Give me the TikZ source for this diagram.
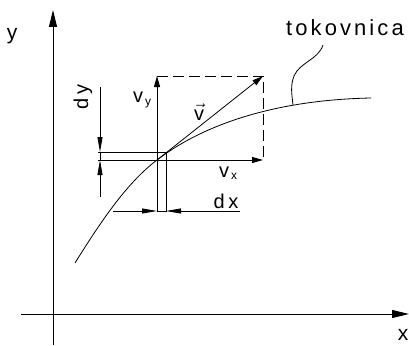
\documentclass[tikz,border=0pt]{standalone}
\usepackage{fontspec}
\setmainfont{Liberation Sans}
\newfontfamily\spaced[LetterSpace=18]{Liberation Sans}
\newfontfamily\wide[LetterSpace=14]{Liberation Sans}
\usetikzlibrary{arrows.meta,calc}
\begin{document}
\begin{tikzpicture}[x=1pt,y=-1pt,line width=0.8pt,
  lbl/.style={inner sep=0pt,font=\fontsize{20}{21}\selectfont},
  axisarrow/.style={-{Triangle[length=17pt,width=8pt]}},
  vecarrow/.style={-{Triangle[length=11pt,width=6pt]}},
  dimarrow/.style={-{Triangle[length=15pt,width=5pt]}},
  dsh/.style={dash pattern=on 11pt off 5pt}]
\useasboundingbox (0,0) rectangle (409,345);
% axes
\coordinate (yb) at (53,345); \coordinate (yt) at (53,10);
\coordinate (xl) at (21,314); \coordinate (xr) at (409,314);
\draw[axisarrow,line width=1pt] (yb) -- (yt);
\draw[axisarrow,line width=1pt] (xl) -- (xr);
\node[lbl,font=\fontsize{21}{22}\selectfont] (ylab) at (12,36) {y};
\node[lbl,font=\fontsize{21}{22}\selectfont] (xlab) at (403,335) {x};
% points
\coordinate (P) at (157,160);
\coordinate (Q) at (166,152);
\coordinate (Vy) at (157,76);
\coordinate (Vx) at (263,160);
\coordinate (V) at (263,76);
\coordinate (Pd) at (157,212);
\coordinate (Qd) at (166,212);
\coordinate (h1) at (98,152);
\coordinate (h2) at (98,160);
\coordinate (c0) at (75,263);
\coordinate (c1) at (371,98);
% streamline
\draw (c0) .. controls (103,218) and (128,182) .. (P)
           .. controls (200,127) and (270,100) .. (c1);
% components
\draw[vecarrow] (Pd) -- (Vy);
\draw[vecarrow] (h2) -- (Vx);
\draw (h1) -- ($(Q)+(1,0)$);
\draw (Q) -- (Qd);
\draw[dsh] (Vy) -- (V) -- (Vx);
\draw[vecarrow] (P) -- (V);
% dy dimension
\coordinate (dyt) at (100,87);
\coordinate (dyb) at (100,197);
\draw[dimarrow] (dyt) -- (dyt |- h1);
\draw[dimarrow] (dyb) -- (dyb |- h2);
\draw (dyt |- h1) -- (dyb |- h2);
% dx dimension
\coordinate (dxl) at (113,211);
\coordinate (dxr) at (240,211);
\draw[dimarrow] (dxl) -- (dxl -| P);
\draw[dimarrow] (dxr) -- (dxr -| Q);
\draw (dxl -| P) -- (dxr -| Q);
% leader
\coordinate (ld0) at (323,45);
\coordinate (ld1) at (293,105);
\draw (ld0) .. controls (318,60) and (300,62) .. (294,76)
            .. controls (290,86) and (292,95) .. (ld1);
% labels
\node[lbl] (vylab) at (142,100) {v\raisebox{-3pt}{\fontsize{12}{12}\selectfont\,y}};
\node[lbl] (vxlab) at (228,173) {v\raisebox{-2pt}{\fontsize{12}{12}\selectfont\,x}};
\node[lbl] (vlab) at (199,112) {\(\vec{\hbox{v}}\)};
\node[lbl,rotate=90] (dylab) at (83,97) {\spaced dy};
\node[lbl] (dxlab) at (226,201) {\spaced dx};
\node[lbl] (toklab) at (345,28) {\wide\fontsize{22}{23}\selectfont tokovnica};
\end{tikzpicture}
\end{document}
